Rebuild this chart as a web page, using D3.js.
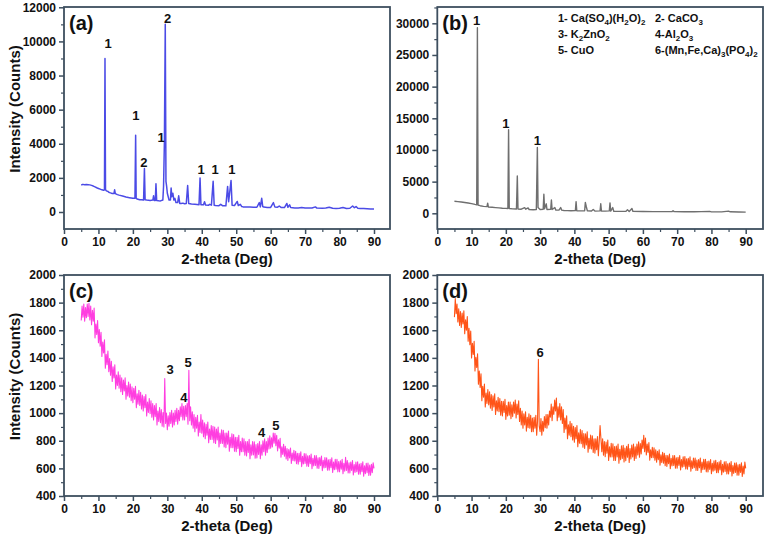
<!DOCTYPE html>
<html><head><meta charset="utf-8">
<script src="https://cdn.jsdelivr.net/npm/d3@7"></script>
<style>
html,body{margin:0;padding:0;background:#fff;}
svg text{font-family:"Liberation Sans",Arial,sans-serif;font-weight:bold;fill:#111;}
</style></head>
<body>
<svg id="chart" width="769" height="542"></svg>
<script>
// ---------- DATA ----------
const xTicks = [0,10,20,30,40,50,60,70,80,90];
const aTicks = [0,2000,4000,6000,8000,10000,12000];
const bTicks = [0,5000,10000,15000,20000,25000,30000];
const cdTicks = [400,600,800,1000,1200,1400,1600,1800,2000];

// (a) pattern: [2theta, counts]
const aPoints = [[5,1580],[5.5,1620],[6,1600],[6.5,1610],[7,1600],[7.5,1590],[8,1560],[8.5,1520],[9,1470],[9.5,1420],[10,1380],[10.5,1340],[11,1300],[11.5,1270],[11.75,1300],[11.9,9000],[12.05,1300],[12.3,1240],[12.8,1200],[13,1160],[13.5,1120],[14,1090],[14.5,1080],[14.7,1300],[14.9,1080],[15.5,1020],[16,990],[17,940],[18,880],[19,840],[20,800],[20.6,800],[20.8,4500],[20.95,800],[21.2,760],[22,720],[22.5,720],[23.1,700],[23.35,2550],[23.55,720],[24,700],[25,680],[25.8,700],[26,950],[26.2,680],[26.5,680],[26.7,1650],[26.9,680],[27.5,660],[28,650],[28.7,700],[28.9,1500],[29.15,4100],[29.4,11000],[29.6,1800],[29.8,1500],[30,1100],[30.5,700],[30.9,700],[31.1,1400],[31.3,900],[31.6,1100],[31.9,700],[32.2,800],[32.5,550],[33,550],[33.3,950],[33.6,500],[34,500],[34.5,520],[35,480],[35.5,500],[35.9,1550],[36.2,500],[37,470],[38,450],[39.2,430],[39.5,2000],[39.75,430],[40.5,420],[40.8,600],[41.1,410],[42,400],[42.3,450],[42.8,400],[43.3,1800],[43.6,400],[44,380],[45,370],[45.5,450],[46,370],[47,360],[47.5,1500],[47.8,600],[48.5,1850],[48.8,400],[49.5,380],[50.3,620],[50.6,380],[51.2,450],[51.6,320],[52,300],[53,290],[54,290],[55,280],[56,280],[56.7,550],[57,300],[57.4,800],[57.7,320],[58,290],[59,270],[60,270],[60.8,550],[61.2,300],[62,280],[62.5,350],[63,270],[64,260],[64.7,500],[65,280],[65.5,420],[65.8,260],[67,240],[68,240],[69,260],[70,230],[71,240],[72,230],[73,300],[73.4,230],[75,220],[76,240],[77,280],[78,220],[79,210],[80,220],[81,260],[82,210],[83,220],[83.8,350],[84.3,250],[84.8,320],[85.3,220],[86,200],[87,200],[88,190],[89,180],[90,180]];

// (b) pattern: [2theta, counts]
const bPoints = [[5,1900],[6,1850],[7,1780],[8,1700],[9,1620],[10,1520],[11,1400],[11.5,1350],[11.7,29300],[11.9,1300],[12.5,1200],[13.5,1100],[14.5,1050],[14.7,1600],[14.9,1000],[16,950],[17,900],[18,850],[19,800],[20,770],[20.6,760],[20.8,13200],[21,760],[22,700],[23.1,680],[23.35,5900],[23.55,680],[24.5,650],[25.5,900],[25.8,650],[26.5,850],[26.8,600],[28,560],[28.9,600],[29.2,10400],[29.4,900],[30,600],[30.9,650],[31.1,3000],[31.3,700],[31.8,1500],[32,600],[33.1,650],[33.3,2100],[33.5,600],[34.3,900],[34.6,500],[35.5,500],[36,900],[36.3,500],[37,450],[38,420],[39,400],[40.3,420],[40.5,1850],[40.7,400],[42,380],[43,400],[43.2,1700],[43.5,1000],[43.8,380],[45,360],[45.5,600],[46,350],[47.5,380],[47.7,1500],[47.9,360],[49,340],[50.2,380],[50.4,1650],[50.6,350],[51.2,900],[51.5,320],[53,300],[55,300],[55.5,550],[56,300],[56.8,750],[57.1,300],[60,280],[63,270],[65,260],[68.5,270],[68.8,400],[69.1,260],[72,250],[75,240],[77,260],[79.5,300],[80,230],[83,230],[85,350],[85.5,240],[88,200],[90,180]];

// (c) and (d): counts every 0.25 deg from 5 to 90
const cdStart = 5, cdStep = 0.25;
const cValues = [
1670,1775,1695,1790, 1665,1765,1690,1790, 1700,1795,1675,1775, 1640,1745,1665,1760,
1545,1645,1570,1670, 1510,1605,1485,1585, 1410,1515,1435,1530, 1325,1425,1350,1450,
1300,1395,1275,1375, 1230,1335,1255,1350, 1175,1275,1200,1300, 1180,1275,1155,1255,
1135,1240,1160,1255, 1100,1200,1125,1225, 1115,1210,1090,1190, 1075,1180,1100,1195,
1040,1140,1065,1165, 1055,1150,1030,1130, 1015,1120,1040,1135, 980,1080,1005,1105,
995,1090,970,1070, 950,1055,975,1070, 915,1015,940,1040, 930,1025,905,1005,
900,1250,925,1000, 880,980,905,1005, 925,1020,900,1000, 915,1020,940,1035,
920,1020,945,1045, 975,1070,950,1050, 950,1055,975,1070, 920,1310,945,1045,
915,1010,890,990, 865,970,890,985, 835,935,860,990, 855,950,830,930,
815,920,840,935, 785,885,810,910, 810,905,785,900, 780,885,805,900,
755,855,780,880, 780,875,755,855, 750,855,775,870, 725,825,750,850,
750,845,725,825, 720,825,745,840, 695,795,720,820, 720,815,695,795,
690,795,715,810, 670,770,695,795, 698,793,673,773, 675,780,700,795,
670,770,695,800, 720,815,695,795, 715,820,740,835, 746,821,755,855,
783,854,764,839, 727,806,746,817, 681,756,700,775, 688,759,669,744,
657,736,676,747, 636,711,655,730, 653,724,634,709, 630,709,649,720,
613,688,632,707, 635,706,616,691, 614,693,633,704, 598,673,617,692,
621,692,602,677, 600,679,619,690, 584,659,603,678, 606,677,587,662,
586,665,605,676, 571,646,590,665, 594,665,575,650, 575,654,594,665,
561,636,580,680, 585,656,566,641, 566,645,585,656, 552,627,571,646,
576,647,557,632, 557,636,576,647, 543,618,562,637, 568,639,549,624,
550,629,569,640, 600];
const dValues = [
1695,1830,1720,1790, 1660,1755,1635,1735, 1620,1725,1645,1740, 1575,1675,1600,1700,
1520,1615,1495,1595, 1400,1505,1425,1520, 1305,1405,1330,1430, 1210,1305,1185,1285,
1090,1195,1115,1210, 1045,1145,1070,1170, 1060,1155,1035,1135, 1020,1125,1045,1140,
990,1090,1015,1115, 1010,1105,985,1085, 980,1085,1005,1100, 955,1055,980,1080,
985,1080,960,1060, 975,1080,1000,1095, 965,1065,990,1090, 940,1035,915,1015,
890,995,915,1010, 870,970,895,995, 890,985,865,965, 865,970,890,985,
840,940,1390,905, 865,960,840,940, 870,975,895,990, 890,990,915,1015,
970,1065,945,1045, 990,1095,1015,1110, 945,1045,970,1070, 950,1045,925,1025,
860,965,885,980, 815,915,840,940, 830,925,805,905, 790,895,815,910,
757,857,782,882, 778,873,753,853, 745,850,770,865, 717,817,742,842,
740,835,715,815, 710,815,735,830, 692,792,910,817, 720,815,695,795,
685,790,710,805, 657,757,682,782, 683,778,658,758, 657,762,682,777,
638,738,663,763, 672,767,647,747, 655,760,680,775, 643,743,668,768,
682,777,657,757, 672,777,697,792, 680,780,705,805, 745,840,720,820,
697,776,716,787, 659,734,678,753, 678,749,659,734, 644,723,663,734,
623,698,642,717, 638,709,619,694, 614,693,633,704, 598,673,617,692,
621,692,602,677, 602,681,621,692, 589,664,608,683, 614,685,595,670,
594,673,613,684, 580,655,599,674, 604,675,585,660, 585,664,604,675,
571,646,590,665, 594,665,575,650, 574,653,593,664, 561,636,580,655,
587,658,568,643, 569,648,588,659, 554,629,573,648, 578,649,559,634,
559,638,578,649, 545,620,564,639, 570,641,551,626, 551,630,570,641,
541,616,560,645, 600];

// peak annotations: [2theta, counts at text baseline, label]
const aPeakLabels = [[12.8,9620,"1"],[20.9,5400,"1"],[23.2,2640,"2"],[28.2,4100,"1"],[30.1,11080,"2"],[39.8,2230,"1"],[43.9,2230,"1"],[48.7,2230,"1"]];
const bPeakLabels = [[11.5,29730,"1"],[20.0,13450,"1"],[29.2,10780,"1"]];
const cPeakLabels = [[30.8,1283,"3"],[36.0,1333,"5"],[34.8,1080,"4"],[57.4,827,"4"],[61.5,877,"5"]];
const dPeakLabels = [[30.0,1406,"6"]];

// legend entries: arrays of [text, isSubscript]
const legendItems = [
  [["1- Ca(SO",0],["4",1],[")(H",0],["2",1],["O)",0],["2",1]],
  [["2- CaCO",0],["3",1]],
  [["3- K",0],["2",1],["ZnO",0],["2",1]],
  [["4-Al",0],["2",1],["O",0],["3",1]],
  [["5- CuO",0]],
  [["6-(Mn,Fe,Ca)",0],["3",1],["(PO",0],["4",1],[")",0],["2",1]]
];

const xLabel = "2-theta (Deg)";
const yLabel = "Intensity (Counts)";

// ---------- DRAW ----------
const svg = d3.select("#chart");
const frameColor = "#3e4f5f";

const panels = [
  {id:"(a)", pts:aPoints, color:"#4b4be6", xr:[64,374], right:390, yd:[0,12000], yr:[212,7.3], top:7, bottom:229,
   ticks:aTicks, minor:1000, yMinorFrom:-1000, labels:aPeakLabels, ylab:true, lw:1.5},
  {id:"(b)", pts:bPoints, color:"#6f6f6f", xr:[437.3,745.7], right:763, yd:[0,30000], yr:[213.3,23.3], top:7, bottom:229,
   ticks:bTicks, minor:2500, yMinorFrom:-2500, labels:bPeakLabels, ylab:false, lw:1.4},
  {id:"(c)", pts:cValues.map((v,i)=>[cdStart+i*cdStep, v]), color:"#ff3ee0", xr:[64,374], right:390, yd:[400,2000], yr:[496,275], top:275, bottom:496,
   ticks:cdTicks, minor:100, yMinorFrom:400, labels:cPeakLabels, ylab:true, lw:1.1},
  {id:"(d)", pts:dValues.map((v,i)=>[cdStart+i*cdStep, v]), color:"#ff5418", xr:[437.3,745.7], right:763, yd:[400,2000], yr:[496,275], top:275, bottom:496,
   ticks:cdTicks, minor:100, yMinorFrom:400, labels:dPeakLabels, ylab:false, lw:1.1}
];

panels.forEach(p => {
  const x = d3.scaleLinear().domain([0,90]).range(p.xr);
  const y = d3.scaleLinear().domain(p.yd).range(p.yr);
  const left = p.xr[0];
  const g = svg.append("g");

  const clipId = "clip" + p.id.replace(/\W/g,"");
  svg.append("clipPath").attr("id", clipId).append("rect")
    .attr("x", left).attr("y", p.top).attr("width", p.right-left).attr("height", p.bottom-p.top);
  g.append("path").datum(p.pts)
    .attr("clip-path", `url(#${clipId})`)
    .attr("fill","none").attr("stroke", p.color).attr("stroke-width", p.lw)
    .attr("stroke-linejoin","round")
    .attr("d", d3.line().x(d=>x(d[0])).y(d=>y(d[1])));

  g.append("rect").attr("x", left).attr("y", p.top).attr("width", p.right-left).attr("height", p.bottom-p.top)
    .attr("fill","none").attr("stroke", frameColor).attr("stroke-width", 1.8);

  const xAx = g.append("g").attr("transform", `translate(0,${p.bottom})`)
    .call(d3.axisBottom(x).tickValues(xTicks).tickSize(5).tickPadding(3).tickFormat(d3.format("d")));
  xAx.select(".domain").remove();
  xAx.selectAll("line").attr("stroke", frameColor).attr("stroke-width", 1.5);
  xAx.selectAll("text").attr("font-size", 12).attr("font-family", "Liberation Sans, Arial, sans-serif").attr("font-weight","bold").attr("fill","#111");
  const xMinor = d3.range(5, 95, 10);
  g.append("g").attr("transform", `translate(0,${p.bottom})`)
    .call(d3.axisBottom(x).tickValues(xMinor).tickSize(3).tickFormat(""))
    .call(s => { s.select(".domain").remove(); s.selectAll("line").attr("stroke", frameColor).attr("stroke-width",1.2); });

  const yAx = g.append("g").attr("transform", `translate(${left},0)`)
    .call(d3.axisLeft(y).tickValues(p.ticks).tickSize(5).tickPadding(3).tickFormat(d3.format("d")));
  yAx.select(".domain").remove();
  yAx.selectAll("line").attr("stroke", frameColor).attr("stroke-width", 1.5);
  yAx.selectAll("text").attr("font-size", 12).attr("font-family", "Liberation Sans, Arial, sans-serif").attr("font-weight","bold").attr("fill","#111");
  const yMin = y.invert(p.bottom), yMax = y.invert(p.top);
  const yMinor = d3.range(p.yMinorFrom, yMax, p.minor).filter(v => v >= yMin - 1 && !p.ticks.includes(v));
  g.append("g").attr("transform", `translate(${left},0)`)
    .call(d3.axisLeft(y).tickValues(yMinor).tickSize(3).tickFormat(""))
    .call(s => { s.select(".domain").remove(); s.selectAll("line").attr("stroke", frameColor).attr("stroke-width",1.2); });

  g.append("text").attr("x", left+5).attr("y", p.top+23).attr("font-size", 20).text(p.id);

  g.selectAll("text.pk").data(p.labels).enter().append("text").attr("class","pk")
    .attr("x", d=>x(d[0])).attr("y", d=>y(d[1])).attr("text-anchor","middle").attr("font-size", 13)
    .text(d=>d[2]);

  g.append("text").attr("x", (left+p.right)/2).attr("y", p.bottom+35).attr("text-anchor","middle")
    .attr("font-size", 15).text(xLabel);
  if (p.ylab) {
    const cy = (p.top+p.bottom)/2 - 9;
    g.append("text").attr("transform", `translate(20,${cy}) rotate(-90)`).attr("text-anchor","middle")
      .attr("font-size", 15).text(yLabel);
  }
});

// legend in panel (b)
const legPos = [[558,22],[655,22],[558,38],[655,38],[558,54],[655,54]];
legendItems.forEach((item,i) => {
  const t = svg.append("text").attr("x", legPos[i][0]).attr("y", legPos[i][1]).attr("font-size", 11);
  let prevSub = false;
  item.forEach(([s,sub]) => {
    const dy = sub && !prevSub ? 3 : (!sub && prevSub ? -3 : 0);
    t.append("tspan").attr("font-size", sub ? 8 : 11).attr("dy", dy).text(s);
    prevSub = !!sub;
  });
});
</script>
</body></html>
